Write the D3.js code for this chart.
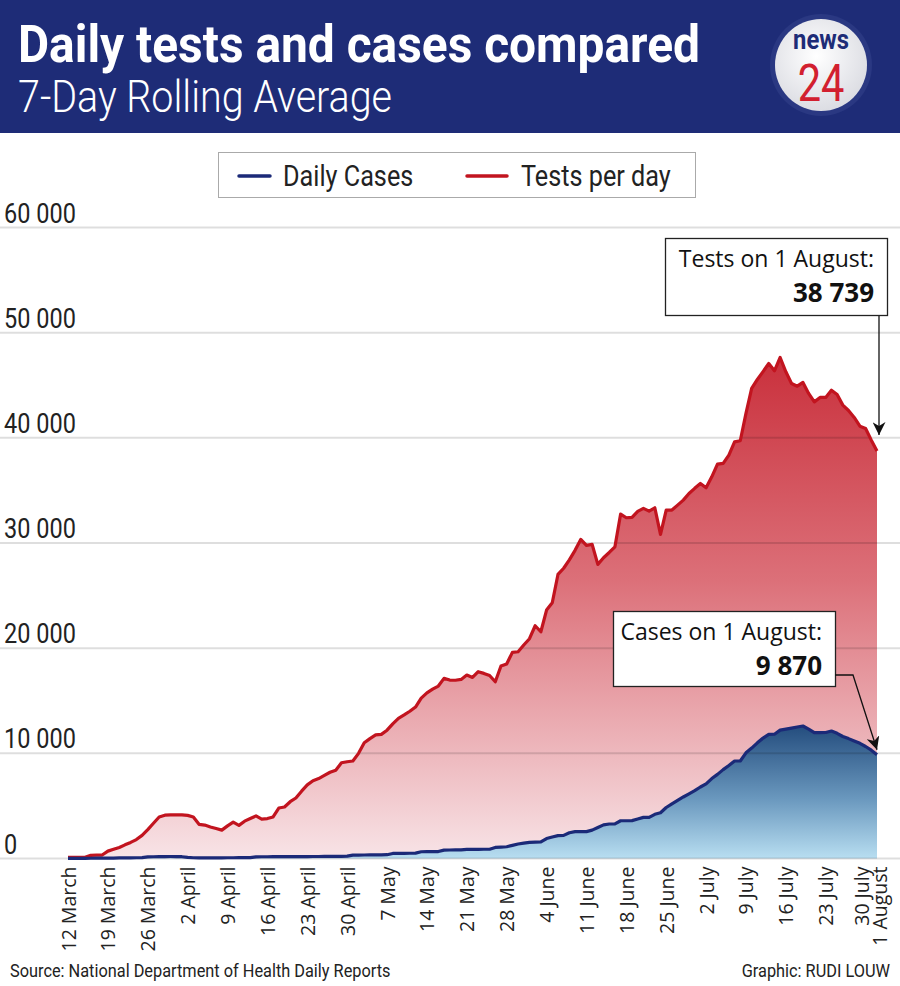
<!DOCTYPE html>
<html>
<head>
<meta charset="utf-8">
<script src="https://cdn.jsdelivr.net/npm/d3@7"></script>
<style>
  html, body { margin: 0; padding: 0; background: #fff; }
  svg { display: block; }
</style>
</head>
<body>
<div id="chart"></div>
<script>
// ---------------- DATA ----------------
const startDate = "2020-03-12";
const endDate = "2020-08-01";

// 7-day rolling average of tests per day, one value per day (12 March .. 1 August)
const testsPerDay = [
  100, 100, 100, 110, 300, 320, 330, 700, 880, 1050,
  1300, 1530, 1800, 2200, 2750, 3350, 3950, 4120, 4150, 4150,
  4150, 4100, 3950, 3250, 3180, 3000, 2850, 2700, 3100, 3450,
  3150, 3550, 3800, 4050, 3750, 3800, 3950, 4800, 4900, 5400,
  5750, 6400, 7000, 7400, 7600, 7900, 8200, 8400, 9100, 9200,
  9270, 10000, 11000, 11400, 11750, 11800, 12200, 12800, 13330, 13650,
  14000, 14400, 15250, 15750, 16100, 16400, 17130, 16970, 16950, 17030,
  17440, 17220, 17760, 17600, 17400, 16810, 18300, 18500, 19600, 19660,
  20300, 20900, 22130, 21560, 23620, 24320, 27010, 27600, 28400, 29300,
  30340, 29770, 29870, 27970, 28600, 29100, 29640, 32750, 32400, 32430,
  33000, 33290, 33030, 33350, 30820, 33130, 33130, 33600, 34080, 34710,
  35200, 35660, 35250, 36290, 37500, 37570, 38360, 39620, 39720, 42320,
  44700, 45550, 46300, 47070, 46370, 47640, 46280, 45170, 44910, 45270,
  44220, 43420, 43840, 43840, 44530, 44120, 43110, 42600, 41940, 41110,
  40890, 39780, 38739
];

// 7-day rolling average of daily cases, one value per day (12 March .. 1 August)
const dailyCases = [
  10, 12, 15, 20, 25, 30, 35, 40, 45, 50,
  55, 60, 70, 90, 150, 165, 175, 185, 190, 185,
  170, 100, 70, 65, 60, 60, 62, 65, 70, 72,
  75, 78, 85, 160, 165, 165, 170, 170, 175, 175,
  180, 180, 185, 190, 190, 195, 200, 205, 210, 220,
  320, 330, 335, 340, 345, 350, 360, 480, 490, 495,
  500, 510, 640, 650, 655, 660, 800, 810, 815, 820,
  870, 870, 875, 880, 880, 1050, 1080, 1120, 1250, 1380,
  1460, 1540, 1555, 1570, 1900, 2050, 2170, 2200, 2450, 2550,
  2550, 2560, 2700, 2950, 3200, 3280, 3290, 3590, 3590, 3600,
  3750, 3910, 3910, 4200, 4350, 4850, 5200, 5530, 5850, 6150,
  6450, 6800, 7100, 7600, 8000, 8450, 8850, 9270, 9270, 10050,
  10500, 11000, 11450, 11810, 11820, 12210, 12300, 12400, 12500, 12600,
  12300, 11960, 11960, 11980, 12120, 11900, 11600, 11400, 11170, 10950,
  10650, 10300, 9870
];

const tickDates = [
  "2020-03-12", "2020-03-19", "2020-03-26", "2020-04-02", "2020-04-09",
  "2020-04-16", "2020-04-23", "2020-04-30", "2020-05-07", "2020-05-14",
  "2020-05-21", "2020-05-28", "2020-06-04", "2020-06-11", "2020-06-18",
  "2020-06-25", "2020-07-02", "2020-07-09", "2020-07-16", "2020-07-23",
  "2020-07-30", "2020-08-01"
];
const tickLabels = [
  "12 March", "19 March", "26 March", "2 April", "9 April",
  "16 April", "23 April", "30 April", "7 May", "14 May",
  "21 May", "28 May", "4 June", "11 June", "18 June",
  "25 June", "2 July", "9 July", "16 July", "23 July",
  "30 July", "1 August"
];

const yTicks = [0, 10000, 20000, 30000, 40000, 50000, 60000];

const legendItems = ["Daily Cases", "Tests per day"];
const seriesColors = ["#1b2a78", "#c2141f"];

const title = "Daily tests and cases compared";
const subtitle = "7-Day Rolling Average";
const sourceText = "Source: National Department of Health Daily Reports";
const creditText = "Graphic: RUDI LOUW";
const testsNote = ["Tests on 1 August:", "38 739"];
const casesNote = ["Cases on 1 August:", "9 870"];

// ---------------- CHART ----------------
const W = 900, H = 986;
const parse = d3.utcParse("%Y-%m-%d");
const dates = d3.utcDay.range(parse(startDate), d3.utcDay.offset(parse(endDate), 1));
const tests = dates.map((d, i) => ({ date: d, v: testsPerDay[i] }));
const cases = dates.map((d, i) => ({ date: d, v: dailyCases[i] }));

const narrow = "Roboto, 'Noto Sans', sans-serif";
const wide = "'Open Sans', 'Lato', sans-serif";
const SX = 0.84; // horizontal squeeze giving a condensed face

const svg = d3.select("#chart").append("svg")
  .attr("width", W).attr("height", H)
  .attr("viewBox", `0 0 ${W} ${H}`);

// condensed text helper
function ctext(parent, px, py, str, size, opts = {}) {
  const g = parent.append("g").attr("transform", `translate(${px},${py}) scale(${opts.sx || SX},1)`);
  return g.append("text")
    .attr("x", 0).attr("y", 0)
    .attr("font-family", narrow)
    .attr("font-size", size)
    .attr("font-weight", opts.weight || "normal")
    .attr("text-anchor", opts.anchor || "start")
    .attr("fill", opts.fill || "#222")
    .text(str);
}

const x = d3.scaleUtc()
  .domain([parse(startDate), parse(endDate)])
  .range([68, 877]);
const y = d3.scaleLinear()
  .domain([0, 60000])
  .range([858.5, 227.5]);

const defs = svg.append("defs");
const gRed = defs.append("linearGradient").attr("id", "gRed")
  .attr("gradientUnits", "userSpaceOnUse")
  .attr("x1", 0).attr("x2", 0).attr("y1", y(48000)).attr("y2", y(0));
gRed.append("stop").attr("offset", "0%").attr("stop-color", "#c92f3b");
gRed.append("stop").attr("offset", "45%").attr("stop-color", "#dc7079");
gRed.append("stop").attr("offset", "100%").attr("stop-color", "#f8e4e7");

const gBlue = defs.append("linearGradient").attr("id", "gBlue")
  .attr("gradientUnits", "userSpaceOnUse")
  .attr("x1", 0).attr("x2", 0).attr("y1", y(12600)).attr("y2", y(0));
gBlue.append("stop").attr("offset", "0%").attr("stop-color", "#244d7e");
gBlue.append("stop").attr("offset", "55%").attr("stop-color", "#6a98be");
gBlue.append("stop").attr("offset", "100%").attr("stop-color", "#b8def1");

const marker = defs.append("marker").attr("id", "arrow")
  .attr("viewBox", "0 0 10 10").attr("refX", 10).attr("refY", 5)
  .attr("markerWidth", 13).attr("markerHeight", 13)
  .attr("markerUnits", "userSpaceOnUse")
  .attr("orient", "auto");
marker.append("path").attr("d", "M0,0 L10,5 L0,10 L3,5 Z").attr("fill", "#111");

// Header
svg.append("rect").attr("x", 0).attr("y", 0).attr("width", W).attr("height", 133).attr("fill", "#1e2c77");
svg.append("text").attr("x", 18).attr("y", 62)
  .attr("font-family", narrow).attr("font-weight", "bold").attr("font-size", 52)
  .attr("fill", "#fff").attr("textLength", 682).attr("lengthAdjust", "spacingAndGlyphs")
  .text(title);
svg.append("text").attr("x", 18).attr("y", 112)
  .attr("font-family", narrow).attr("font-weight", 300).attr("font-size", 45)
  .attr("fill", "#fff").attr("textLength", 374).attr("lengthAdjust", "spacingAndGlyphs")
  .text(subtitle);

// Logo
const logo = svg.append("g").attr("transform", "translate(821,65)");
const gLogo = defs.append("radialGradient").attr("id", "gLogo").attr("cx", "45%").attr("cy", "40%").attr("r", "60%");
gLogo.append("stop").attr("offset", "0%").attr("stop-color", "#ffffff");
gLogo.append("stop").attr("offset", "100%").attr("stop-color", "#dcdde3");
logo.append("circle").attr("r", 51).attr("fill", "#2a3882");
logo.append("circle").attr("r", 46).attr("fill", "url(#gLogo)");
ctext(logo, 0, -16, "news", 28, { anchor: "middle", weight: "bold", fill: "#1e2c77", sx: 0.85 });
ctext(logo, 0, 36, "24", 52, { anchor: "middle", fill: "#d2202f", sx: 0.8 });

// Legend
const lg = svg.append("g");
lg.append("rect").attr("x", 218.5).attr("y", 152.5).attr("width", 477).attr("height", 45)
  .attr("fill", "#fff").attr("stroke", "#aaa").attr("stroke-width", 1);
const legendX = [[239, 270, 283], [467, 507, 521]];
legendItems.forEach((name, i) => {
  lg.append("line").attr("x1", legendX[i][0]).attr("x2", legendX[i][1])
    .attr("y1", 176).attr("y2", 176)
    .attr("stroke", seriesColors[i]).attr("stroke-width", 3.5).attr("stroke-linecap", "round");
  ctext(lg, legendX[i][2], 186, name, 29, { fill: "#222", sx: 0.87 });
});

// Areas
const area = d3.area().x(d => x(d.date)).y0(y(0)).y1(d => y(d.v));
const line = d3.line().x(d => x(d.date)).y(d => y(d.v));

svg.append("path").datum(tests).attr("d", area).attr("fill", "url(#gRed)");
svg.append("path").datum(cases).attr("d", area).attr("fill", "url(#gBlue)");

// Gridlines + y labels
const grid = svg.append("g");
yTicks.forEach(t => {
  grid.append("line").attr("x1", 0).attr("x2", W)
    .attr("y1", y(t)).attr("y2", y(t))
    .attr("stroke", "rgba(0,0,0,0.13)").attr("stroke-width", 2);
  ctext(grid, 4, y(t) - 5, d3.format(",")(t).replace(/,/g, " "), 28, { fill: "#222" });
});

// Lines
svg.append("path").datum(tests).attr("d", line)
  .attr("fill", "none").attr("stroke", seriesColors[1]).attr("stroke-width", 3.2)
  .attr("stroke-linejoin", "round");
svg.append("path").datum(cases).attr("d", line)
  .attr("fill", "none").attr("stroke", seriesColors[0]).attr("stroke-width", 3.2)
  .attr("stroke-linejoin", "round");

// X axis labels (rotated)
const labelNudge = (i) => i === tickLabels.length - 2 ? -4 : (i === tickLabels.length - 1 ? 2 : 0);
const xAxis = d3.axisBottom(x)
  .tickValues(tickDates.map(parse))
  .tickFormat((d, i) => tickLabels[i])
  .tickSize(0);
const xg = svg.append("g").attr("transform", `translate(0,${y(0)})`).call(xAxis);
xg.select(".domain").remove();
xg.selectAll("text")
  .attr("font-family", wide).attr("font-size", 19.5).attr("fill", "#222")
  .attr("text-anchor", "end")
  .attr("transform", "rotate(-90)")
  .attr("x", -8).attr("y", (d, i) => labelNudge(i)).attr("dy", "0.36em");

// Annotations
function note(lines, bx, by, bw, bh) {
  const g = svg.append("g");
  g.append("rect").attr("x", bx + 0.5).attr("y", by + 0.5).attr("width", bw).attr("height", bh)
    .attr("fill", "#fff").attr("stroke", "#222").attr("stroke-width", 1.3);
  g.append("text").attr("x", bx + bw - 13).attr("y", by + 29)
    .attr("text-anchor", "end").attr("font-family", wide).attr("font-size", 23).attr("fill", "#111")
    .text(lines[0]);
  g.append("text").attr("x", bx + bw - 13).attr("y", by + 64)
    .attr("text-anchor", "end").attr("font-family", wide).attr("font-weight", "bold")
    .attr("font-size", 26).attr("fill", "#111")
    .text(lines[1]);
}
const lastDate = parse(endDate);
const lastTests = testsPerDay[testsPerDay.length - 1];
const lastCases = dailyCases[dailyCases.length - 1];

note(testsNote, 665, 238, 222, 77);
svg.append("path")
  .attr("d", `M${x(lastDate) + 2},316 L${x(lastDate) + 2},${y(lastTests) - 16}`)
  .attr("stroke", "#111").attr("stroke-width", 1.3).attr("fill", "none")
  .attr("marker-end", "url(#arrow)");

note(casesNote, 613, 611, 222, 75);
svg.append("path")
  .attr("d", `M835,675 L853,675 L${x(lastDate)},${y(lastCases) - 5}`)
  .attr("stroke", "#111").attr("stroke-width", 1.3).attr("fill", "none")
  .attr("marker-end", "url(#arrow)");

// Footer
ctext(svg, 10, 977, sourceText, 19, { fill: "#222", sx: 0.86 });
ctext(svg, 890, 977, creditText, 19, { fill: "#222", anchor: "end", sx: 0.86 });
</script>
</body>
</html>
